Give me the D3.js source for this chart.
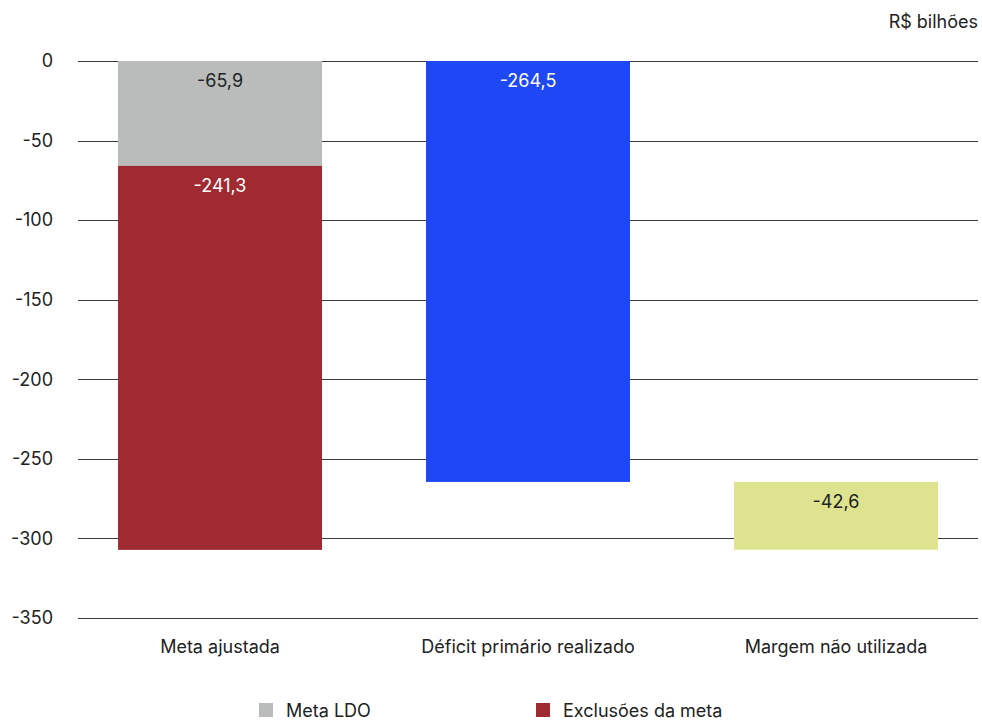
<!DOCTYPE html>
<html><head><meta charset="utf-8">
<script src="https://cdn.jsdelivr.net/npm/d3@7"></script>
<style>
body{margin:0;background:#fff;}
text{font-family:Inter,"Noto Sans",sans-serif;fill:#222;}
</style></head>
<body>
<svg id="c" width="982" height="722"></svg>
<script>
const categories = ["Meta ajustada", "Déficit primário realizado", "Margem não utilizada"];
const segStart = [0, -65.9, 0, -264.5];
const segValue = [-65.9, -241.3, -264.5, -42.6];
const segCategory = [0, 0, 1, 2];
const segSeries = ["Meta LDO", "Exclusões da meta", "Déficit", "Margem"];
const seriesColors = {"Meta LDO": "#B9BCBA", "Exclusões da meta": "#A02A31", "Déficit": "#1E47F5", "Margem": "#DDE38F"};
const labelColors = {"Meta LDO": "#222", "Exclusões da meta": "#fff", "Déficit": "#fff", "Margem": "#222"};
const yTicks = [0, -50, -100, -150, -200, -250, -300, -350];
const legendItems = ["Meta LDO", "Exclusões da meta"];
const unitLabel = "R$ bilhões";

(function(){
const svg = d3.select("#c");
const mLeft = 78, mRight = 978, mTop = 61, mBottom = 618;
const fs = 18;
const y = d3.scaleLinear().domain([0, -350]).range([mTop, mBottom]);
const x = d3.scaleBand().domain(categories).range([mLeft, mRight]).paddingInner(0.3377).paddingOuter(0.13);

const fmt = v => d3.format(".1f")(v).replace(".", ",").replace("−", "-");

svg.append("g").selectAll("line").data(yTicks).join("line")
  .attr("x1", mLeft).attr("x2", mRight)
  .attr("y1", d => Math.round(y(d)) + 0.5).attr("y2", d => Math.round(y(d)) + 0.5)
  .attr("stroke", "#3a3a3a").attr("stroke-width", 1);

svg.append("g").selectAll("text").data(yTicks).join("text")
  .attr("x", 53).attr("y", d => y(d)).attr("dy", "0.35em")
  .attr("text-anchor", "end").attr("font-size", fs)
  .text(d => d === 0 ? "0" : "-" + Math.abs(d));

const segs = segValue.map((v, i) => ({cat: categories[segCategory[i]], s: segStart[i], e: segStart[i] + v, v, series: segSeries[i]}));

svg.append("g").selectAll("rect").data(segs).join("rect")
  .attr("x", d => x(d.cat)).attr("width", x.bandwidth())
  .attr("y", d => y(d.s)).attr("height", d => y(d.e) - y(d.s))
  .attr("fill", d => seriesColors[d.series]);

svg.append("g").selectAll("text").data(segs).join("text")
  .attr("x", d => x(d.cat) + x.bandwidth() / 2).attr("y", d => y(d.s) + 26)
  .attr("text-anchor", "middle").attr("font-size", fs)
  .style("fill", d => labelColors[d.series])
  .text(d => fmt(d.v));

svg.append("g").selectAll("text").data(categories).join("text")
  .attr("x", d => x(d) + x.bandwidth() / 2).attr("y", 653)
  .attr("text-anchor", "middle").attr("font-size", fs)
  .text(d => d);

svg.append("text").attr("x", 978).attr("y", 28).attr("text-anchor", "end").attr("font-size", fs).text(unitLabel);

const lx = [259, 536];
const lg = svg.append("g").selectAll("g").data(legendItems).join("g")
  .attr("transform", (d, i) => `translate(${lx[i]},703)`);
lg.append("rect").attr("width", 14).attr("height", 14).attr("fill", d => seriesColors[d]);
lg.append("text").attr("x", 27).attr("y", 14).attr("font-size", fs).text(d => d);
})();
</script>
</body></html>
